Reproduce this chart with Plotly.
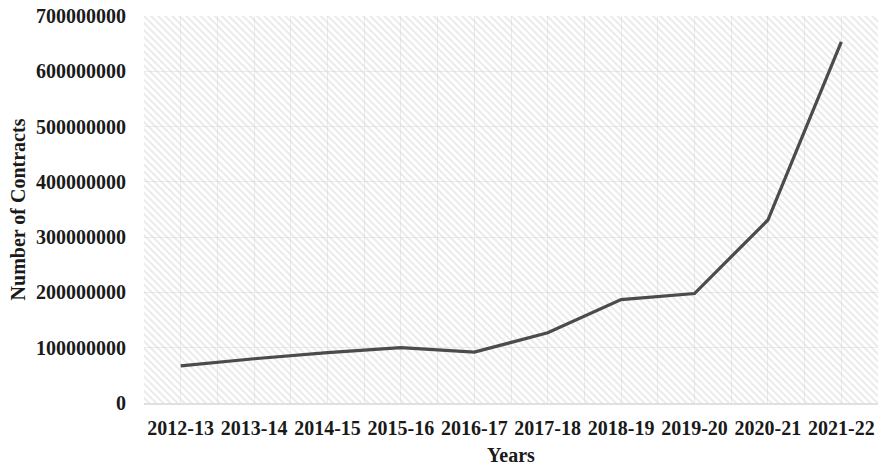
import plotly.graph_objects as go

years = ["2012-13", "2013-14", "2014-15", "2015-16", "2016-17",
         "2017-18", "2018-19", "2019-20", "2020-21", "2021-22"]
contracts = [67000000, 80000000, 91000000, 100000000, 92000000,
             127000000, 187000000, 198000000, 331000000, 653000000]
y_ticks = [0, 100000000, 200000000, 300000000, 400000000,
           500000000, 600000000, 700000000]

idx = list(range(len(years)))
x_lo, x_hi = -0.5, len(years) - 0.5
y_lo, y_hi = 0, 700000000

fig = go.Figure()
# hatched plot-area background
fig.add_trace(go.Scatter(
    x=[x_lo, x_hi, x_hi, x_lo, x_lo], y=[y_lo, y_lo, y_hi, y_hi, y_lo],
    mode="none", fill="toself", fillcolor="rgba(0,0,0,0)",
    fillpattern=dict(shape="\\", fgcolor="#d2d2d2", bgcolor="rgba(255,255,255,0)",
                     size=5, solidity=0.35),
    hoverinfo="skip", showlegend=False))

fig.add_trace(go.Scatter(
    x=idx, y=contracts, mode="lines",
    line=dict(color="#4b4b4b", width=3.2),
    showlegend=False))

font = dict(family="Liberation Serif", size=20, color="#1a1a1a")

fig.update_layout(
    width=879, height=468,
    margin=dict(l=144, r=1, t=16, b=65),
    paper_bgcolor="white", plot_bgcolor="white",
    font=font,
    xaxis=dict(
        range=[x_lo, x_hi], tickvals=idx, ticktext=["<b>%s</b>" % y for y in years],
        showgrid=True, gridcolor="#ebebeb", gridwidth=1.2,
        minor=dict(tickvals=[i + 0.5 for i in range(-1, len(years))],
                   showgrid=True, gridcolor="#ebebeb", gridwidth=1.2),
        showline=True, linecolor="#e0e0e0", linewidth=1.5,
        ticks="", zeroline=False, ticklabelstandoff=6,
        title=dict(text="<b>Years</b>", standoff=10, font=font),
    ),
    yaxis=dict(
        range=[y_lo, y_hi], tickvals=y_ticks,
        ticktext=["<b>%d</b>" % v for v in y_ticks],
        showgrid=True, gridcolor="#ebebeb", gridwidth=1.2,
        zeroline=False, showline=False, ticks="",
        ticklabelstandoff=17,
        title=dict(text="<b>Number of Contracts</b>", standoff=5, font=font),
    ),
)

fig.write_html("out.html")
